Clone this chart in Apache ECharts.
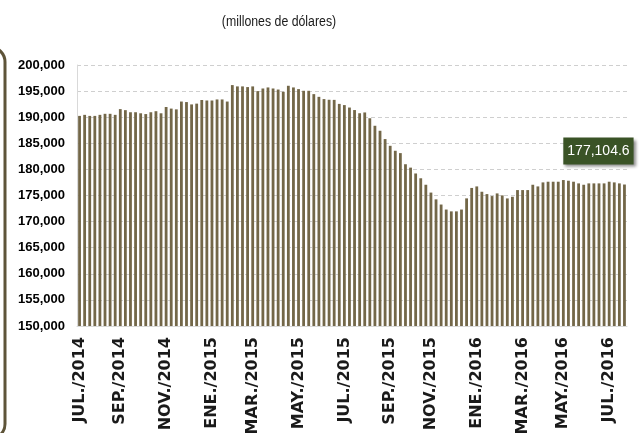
<!DOCTYPE html>
<html>
<head>
<meta charset="utf-8">
<script src="https://cdn.jsdelivr.net/npm/echarts@6/dist/echarts.min.js"></script>
<style>
  html, body { margin: 0; padding: 0; background: #fff; }
  #chart { width: 639px; height: 433px; }
</style>
</head>
<body>
<div id="chart"></div>
<script>
// reservas semanales (millones de dolares), jul. 2014 - jul. 2016
var firstWeek = '2014-07-04';
var reservas = [
	190250, 190450, 190250, 190250, 190450, 190650, 190650, 190450, 191550, 191350,
	190950, 190950, 190750, 190600, 190950, 191150, 190750, 191950, 191650, 191500,
	193000, 192900, 192450, 192600, 193300, 193200, 193200, 193400, 193400, 193000,
	196150, 195900, 195900, 195770, 195900, 195000, 195500, 195700, 195500, 195300,
	194870, 196020, 195700, 195380, 195060, 195060, 194420, 193900, 193470, 193340,
	193320, 192550, 192320, 191850, 191370, 190760, 190910, 189800, 188360, 187400,
	185810, 184520, 183570, 183120, 180990, 180340, 179220, 178300, 177060, 175560,
	174260, 173270, 172310, 171960, 171960, 172310, 174450, 176450, 176740, 175720,
	175270, 174890, 175400, 175020, 174440, 174760, 176040, 176040, 176040, 177060,
	176740, 177510, 177640, 177640, 177640, 177960, 177830, 177640, 177320, 177060,
	177320, 177320, 177320, 177320, 177640, 177510, 177320, 177104.6
];
var tickLabels = ['JUL./2014', 'SEP./2014', 'NOV./2014', 'ENE./2015', 'MAR./2015', 'MAY./2015', 'JUL./2015',
	'SEP./2015', 'NOV./2015', 'ENE./2016', 'MAR./2016', 'MAY./2016', 'JUL./2016'];
var tickWeeks = [0, 8, 17, 26, 34, 43, 52, 61, 69, 78, 87, 95, 104]; // semana mas cercana al dia 1

// categorias: una por semana (viernes)
var semanas = [];
var d0 = new Date(firstWeek + 'T00:00:00Z');
for (var i = 0; i < reservas.length; i++) {
	var d = new Date(d0.getTime() + i * 7 * 86400000);
	semanas.push(d.toISOString().slice(0, 10));
}

function number_comma(v) {
	return String(v).replace(/\B(?=(\d{3})+(?!\d))/g, ',');
}

var seriesData = reservas.map(function (v, idx) {
	if (idx !== reservas.length - 1) return v;
	return {
		value: v,
		label: { // etiqueta del ultimo dato
			show: true,
			position: 'top',
			offset: [-26, -15],
			formatter: function (p) { return number_comma(p.value.toFixed(1)); },
			color: '#ffffff',
			fontFamily: 'Liberation Sans',
			fontSize: 14,
			backgroundColor: '#3a5326',
			padding: [7, 4, 6, 4],
			shadowColor: 'rgba(0,0,0,0.45)',
			shadowBlur: 3,
			shadowOffsetX: 2,
			shadowOffsetY: 2
		}
	};
});

var myChart = echarts.init(document.getElementById('chart'), null, { renderer: 'canvas' });

var option = {
	backgroundColor: '#ffffff',
	animation: false,
	grid: { left: 77, right: 12, top: 65, bottom: 107, outerBoundsMode: 'none' },
	graphic: [
		{ // marco redondeado cortado a la izquierda
			type: 'rect',
			shape: { x: -120, y: 47, width: 125, height: 392, r: 15 },
			style: { fill: 'none', stroke: '#5e5439', lineWidth: 3 }
		},
		{
			type: 'text',
			x: 279,
			y: 22,
			scaleX: 0.88,
			style: {
				text: '(millones de dólares)',
				fill: '#1a1a1a',
				font: '14px "Liberation Sans", sans-serif',
				textAlign: 'center',
				textVerticalAlign: 'middle'
			}
		}
	],
	xAxis: {
		type: 'category',
		data: semanas,
		boundaryGap: true,
		axisLine: { show: true, lineStyle: { color: '#d9d9d9', width: 1 } },
		axisTick: { show: false },
		axisLabel: {
			interval: function (index) { return tickWeeks.indexOf(index) >= 0; },
			formatter: function (value, index) {
				var k = tickWeeks.indexOf(index);
				return k >= 0 ? tickLabels[k] : '';
			},
			rotate: 90,
			margin: 11,
			color: '#1a1a1a',
			fontFamily: 'DejaVu Sans',
			fontWeight: 'bold',
			fontSize: 16
		}
	},
	yAxis: {
		type: 'value',
		min: 150000,
		max: 200000,
		interval: 5000,
		axisLine: { show: true, lineStyle: { color: '#d9d9d9', width: 1 } },
		axisTick: { show: false },
		axisLabel: {
			margin: 12,
			color: '#000000',
			fontFamily: 'Liberation Sans',
			fontWeight: 'bold',
			fontSize: 13,
			formatter: function (v) { return number_comma(v); }
		},
		splitLine: { show: true, lineStyle: { color: '#cfcfcf', type: [4, 3], width: 1 } }
	},
	series: [
		{
			name: 'Reservas',
			type: 'bar',
			data: seriesData,
			barWidth: '55%',
			itemStyle: { color: '#736748' }
		}
	]
};

myChart.setOption(option);
</script>
</body>
</html>
